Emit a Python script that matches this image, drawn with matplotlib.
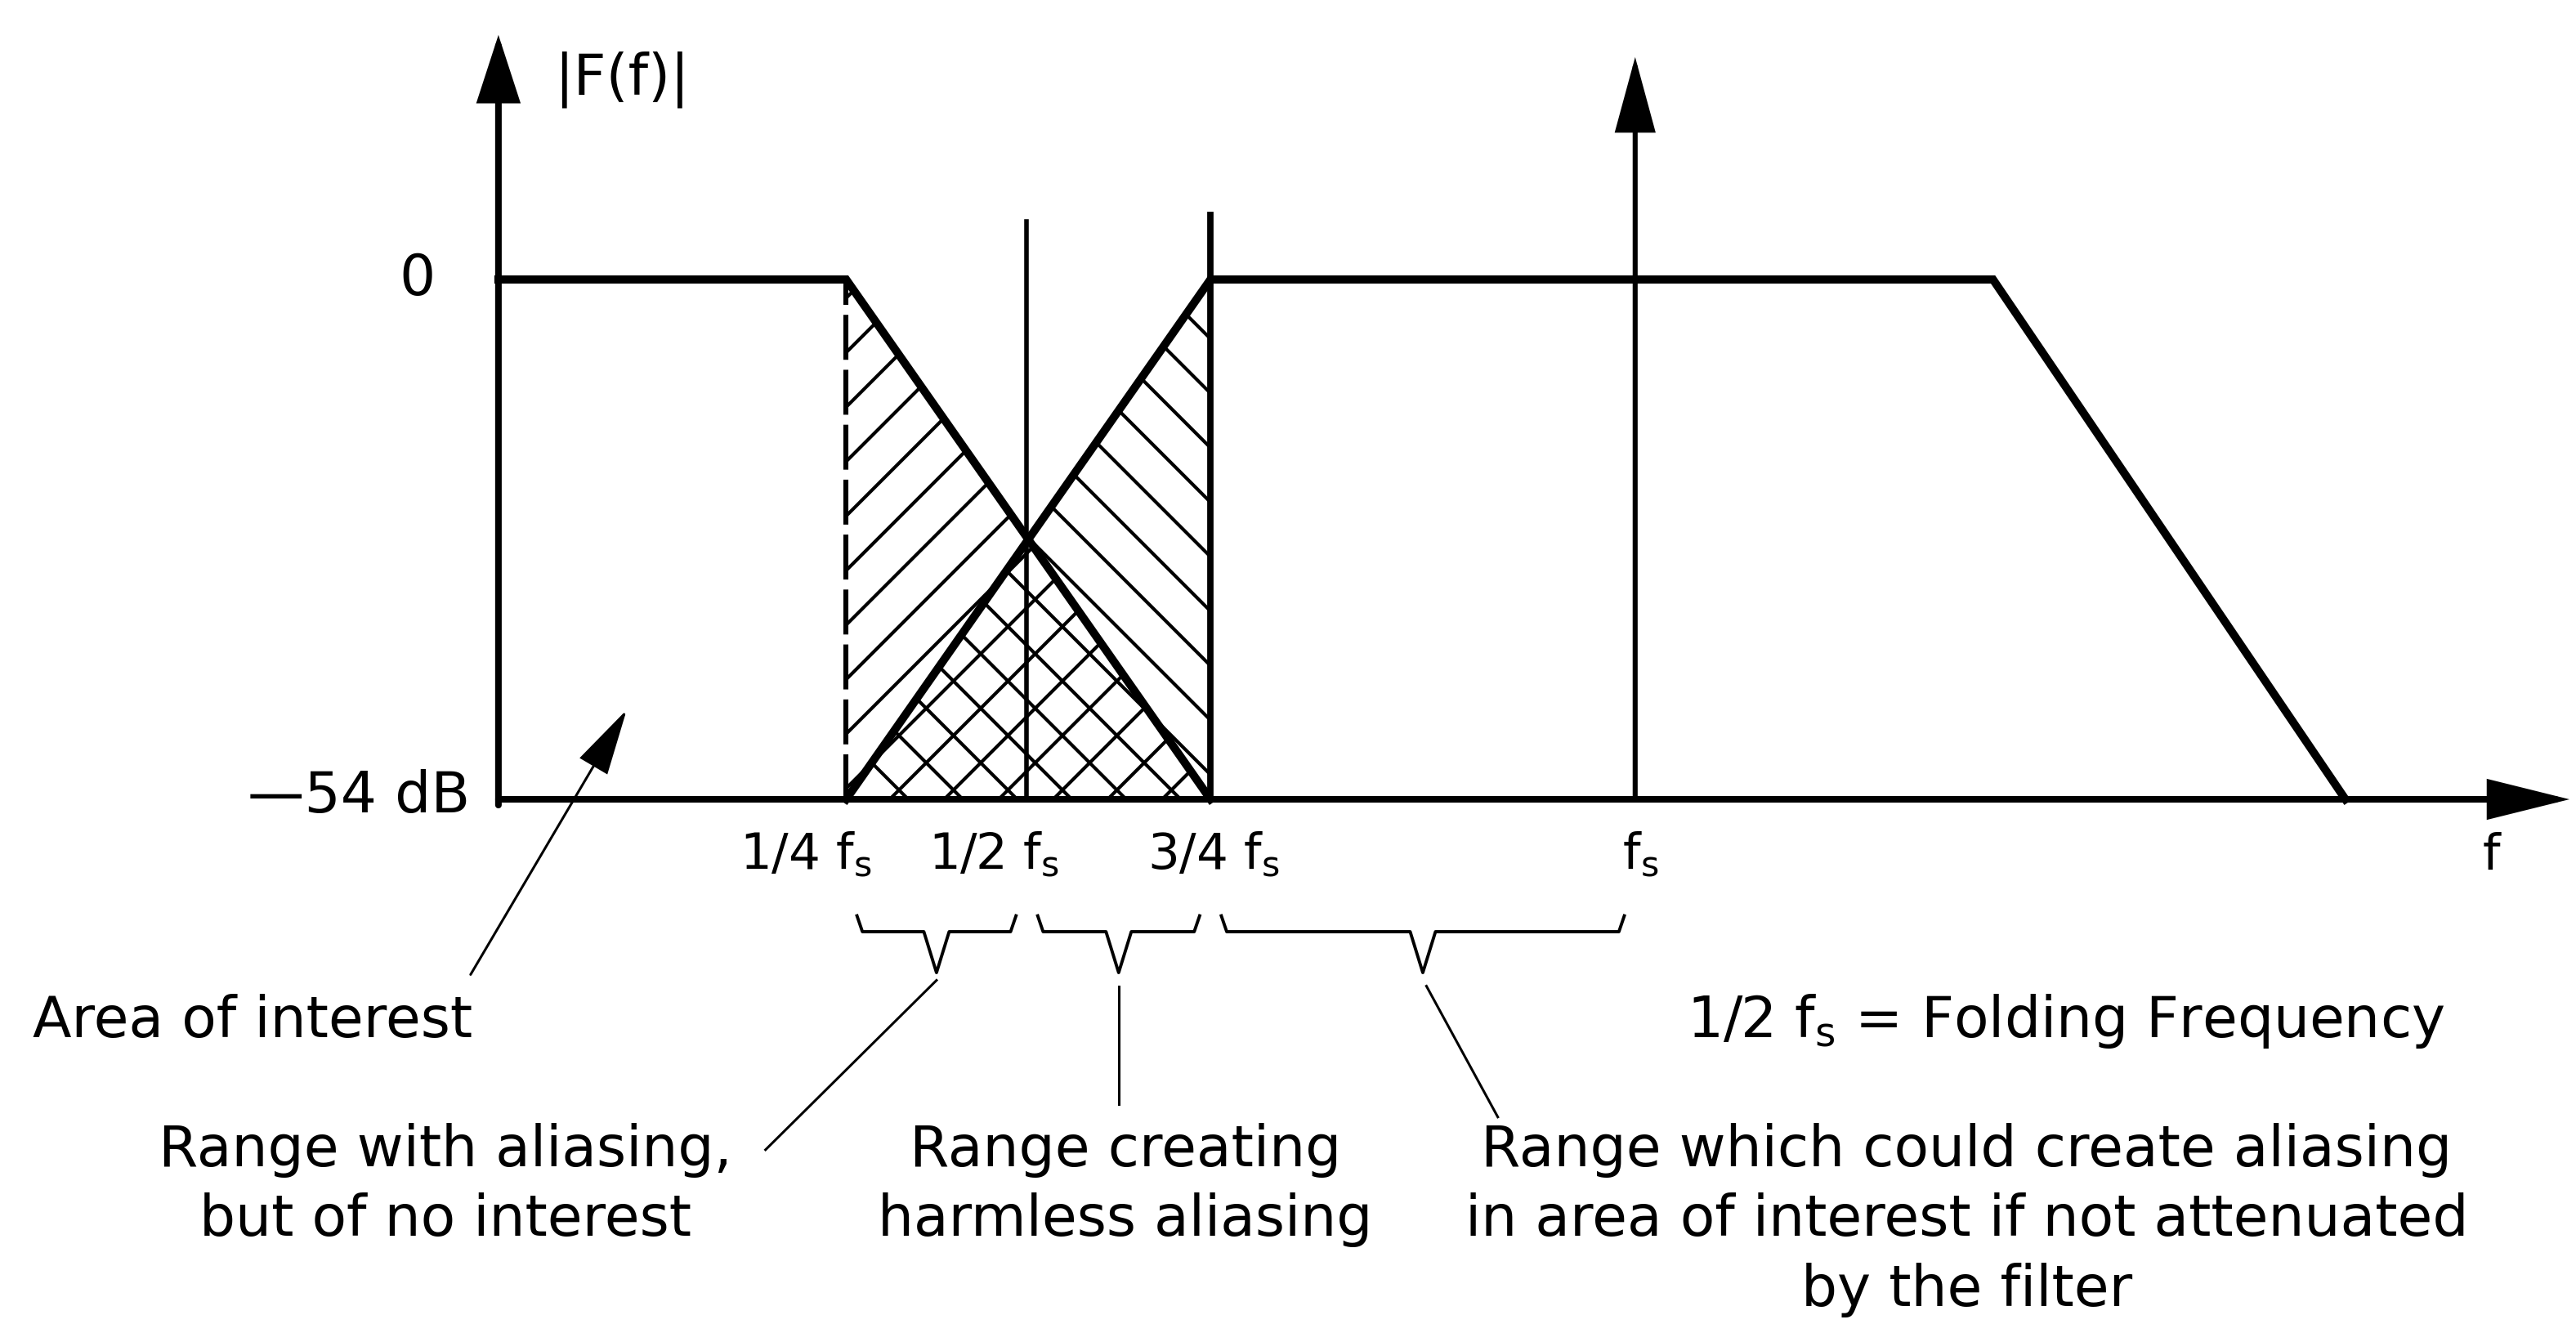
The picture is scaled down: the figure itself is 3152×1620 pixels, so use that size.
# Aliasing sketch: filter response, its mirror about f_s and the ranges between

import matplotlib.pyplot as plt

plt.rcParams['font.family'] = ['DejaVu Sans']
plt.rcParams['mathtext.default'] = 'regular'
plt.rcParams['hatch.linewidth'] = 0.75

# schematic frequency axis (not to scale) and level in dB
floor_db = -54
top_db = 0

# low pass filter response
pass_f = [0.0, 0.962, 1.970]
pass_db = [0, 0, -54]

# same response mirrored around the sampling frequency
mirror_f = [0.962, 1.970, 4.135, 5.11]
mirror_db = [-54, 0, 0, -54]

# frequency marks: 1/4 fs, 1/2 fs, 3/4 fs, fs
mark_f = [0.962, 1.462, 1.970, 3.145]
mark_labels = ["1/4 f$_s$", "1/2 f$_s$", "3/4 f$_s$", "f$_s$"]
range_texts = ["Range with aliasing,\nbut of no interest",
               "Range creating\nharmless aliasing",
               "Range which could create aliasing\nin area of interest if not attenuated\nby the filter"]

fs_txt = 12.5
fs_tick = 11
thick = 1.8
axis_lw = 1.45

fig = plt.figure(figsize=(7.88, 4.05), dpi=400)
ax = fig.add_axes([0, 0, 1, 1])
ax.set_xlim(-1.379, 5.748)
ax.set_ylim(-108.5, 29.03)
ax.axis('off')

def arrow(x0, y0, x1, y1, lw, hl, hw, scale=10):
    ax.annotate("", xy=(x1, y1), xytext=(x0, y0),
                arrowprops=dict(arrowstyle='-|>,head_length=%g,head_width=%g' % (hl, hw),
                                lw=lw, color='black', shrinkA=0, shrinkB=0,
                                mutation_scale=scale, joinstyle='miter'))

# axes with arrows
arrow(0, floor_db - 0.6, 0, 25.4, axis_lw, hl=1.2, hw=0.39)
arrow(0, floor_db, 5.73, floor_db, axis_lw, hl=1.45, hw=0.36)
arrow(mark_f[3], floor_db, mark_f[3], 23.1, 1.1, hl=1.4, hw=0.38)

# hatched transition bands
ax.fill_between(pass_f[1:], pass_db[1:], floor_db, facecolor='none',
                edgecolor='black', linewidth=0, hatch='//')
ax.fill_between(mirror_f[:2], mirror_db[:2], floor_db, facecolor='none',
                edgecolor='black', linewidth=0, hatch='\\\\')

# responses
ax.plot(pass_f, pass_db, color='black', lw=thick, solid_joinstyle='miter')
ax.plot(mirror_f, mirror_db, color='black', lw=thick, solid_joinstyle='miter')

# marker lines
ax.plot([mark_f[0], mark_f[0]], [floor_db, top_db], color='black', lw=1.1,
        dashes=(9, 2))
ax.plot([mark_f[1], mark_f[1]], [floor_db, 6.0], color='black', lw=1.0)
ax.plot([mark_f[2], mark_f[2]], [floor_db, 6.7], color='black', lw=1.4)

# axis texts
ax.text(0.154, 20.8, "|F(f)|", fontsize=fs_txt, ha='left', va='center')
ax.text(-0.174, top_db, "0", fontsize=fs_txt, ha='right', va='center')
ax.text(-0.079, floor_db + 0.3, "\u201454 dB", fontsize=fs_txt, ha='right', va='center')
label_x = [0.85, 1.37, 1.98, 3.16]
for x, lab in zip(label_x, mark_labels):
    ax.text(x, -61.3, lab, fontsize=fs_tick, ha='center', va='baseline')
ax.text(5.514, -61.3, "f", fontsize=fs_tick, ha='center', va='baseline')

# braces under the ranges
def brace(a, b, gap=0.03, y_top=-66.1, y_mid=-67.75, y_tip=-72.0):
    a, b = a + gap, b - gap
    m = (a + b) / 2
    xs = [a, a + 0.015, m - 0.035, m, m + 0.035, b - 0.015, b]
    ys = [y_top, y_mid, y_mid, y_tip, y_mid, y_mid, y_top]
    ax.plot(xs, ys, color='black', lw=0.7)
    return m

tips = [brace(mark_f[0], mark_f[1]), brace(mark_f[1], mark_f[2]),
        brace(mark_f[2], mark_f[3])]

# leader lines from braces to notes
ax.plot([tips[0], 0.739], [-72.8, -90.4], color='black', lw=0.55)
ax.plot([tips[1], tips[1]], [-73.4, -85.7], color='black', lw=0.55)
ax.plot([tips[2] + 0.01, 2.765], [-73.4, -87.0], color='black', lw=0.55)

text_x = [-0.147, 1.735, 4.062]
for x, t in zip(text_x, range_texts):
    ax.text(x, -87.6, t, fontsize=fs_txt, ha='center', va='top',
            multialignment='center', linespacing=1.35)

# area of interest
ax.text(-1.289, -78.7, "Area of interest", fontsize=fs_txt, ha='left', va='baseline')
arrow(-0.077, -72.2, 0.355, -44.7, 0.55, hl=1.3, hw=0.32)

ax.text(3.289, -78.7, "1/2 f$_s$ = Folding Frequency", fontsize=fs_txt,
        ha='left', va='baseline')

fig.savefig("out.png", dpi=400, facecolor='white')
